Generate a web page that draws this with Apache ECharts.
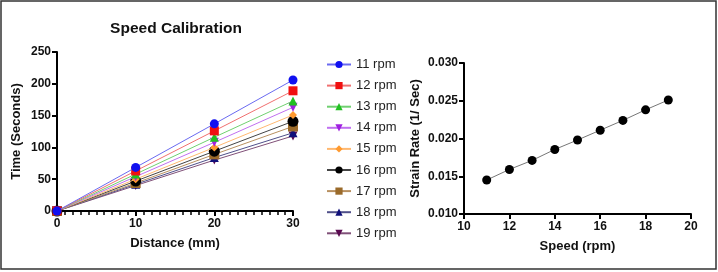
<!DOCTYPE html>
<html><head><meta charset="utf-8">
<script src="https://cdn.jsdelivr.net/npm/echarts@6/dist/echarts.min.js"></script>
<style>html,body{margin:0;padding:0;background:#fff}#c{width:718px;height:272px}</style>
</head><body><div id="c"></div>
<script>
const distances = [0, 10, 20, 30];
const seriesNames = ['11 rpm','12 rpm','13 rpm','14 rpm','15 rpm','16 rpm','17 rpm','18 rpm','19 rpm'];
const t11 = [0, 68.5, 137, 206];
const t12 = [0, 63, 126, 189];
const t13 = [0, 58, 116, 173];
const t14 = [0, 54, 108, 163];
const t15 = [0, 50, 100, 151];
const t16 = [0, 47, 94, 141];
const t17 = [0, 44, 89, 133];
const t18 = [0, 42, 84, 123];
const t19 = [0, 40, 80, 118];
const speeds = [11, 12, 13, 14, 15, 16, 17, 18, 19];
const strainRates = [0.0145, 0.0159, 0.0171, 0.01855, 0.0198, 0.0211, 0.0224, 0.0238, 0.0251];

const timeSets = [t11,t12,t13,t14,t15,t16,t17,t18,t19];
const colors = ['#1010f0','#f01010','#22c022','#a020e0','#ff9a30','#000000','#9a6a2a','#10107a','#5a0a50'];
const lineColors = ['#6a6af0','#f07070','#70d070','#c070f0','#ffb870','#444444','#b89060','#50508a','#805078'];
const symbols = ['circle','rect','triangle','triangle','diamond','circle','rect','triangle','triangle'];
const rotates = [0,0,0,180,0,0,0,0,180];
const sizes = [9,9,9,9,8,11,10,9,9];

const font = 'Liberation Sans, Arial, sans-serif';
const chart = echarts.init(document.getElementById('c'));
const lineSeries = seriesNames.map((n,i)=>({
  name: n, type: 'line', xAxisIndex: 0, yAxisIndex: 0,
  data: distances.map((d,j)=>[d, timeSets[i][j]]),
  symbol: symbols[i], symbolRotate: rotates[i], symbolSize: sizes[i],
  itemStyle: {color: colors[i]},
  lineStyle: {color: lineColors[i], width: 1},
  z: 10 - i, animation: false
}));
const axisCommon = {
  axisLine: {show: true, lineStyle: {color: '#000', width: 2}},
  axisTick: {show: true, inside: false, length: 5, lineStyle: {color: '#000', width: 2}},
  axisLabel: {color: '#111', fontWeight: 'bold', fontSize: 12, fontFamily: font},
  splitLine: {show: false},
  nameTextStyle: {color: '#111', fontWeight: 'bold', fontSize: 13, fontFamily: font},
  nameLocation: 'middle'
};
chart.setOption({
  animation: false,
  backgroundColor: '#fff',
  title: {text: 'Speed Calibration', left: 171, textAlign: 'center', top: 16,
    textStyle: {fontSize: 15.5, fontWeight: 'bold', color: '#111', fontFamily: font}},
  legend: {
    orient: 'vertical', left: 321, top: 53, itemWidth: 24, itemHeight: 9, itemGap: 8.1,
    data: seriesNames,
    textStyle: {fontSize: 13, color: '#222', fontFamily: font}
  },
  grid: [
    {left: 57, right: 425, top: 52, bottom: 61},
    {left: 464, right: 27, top: 63, bottom: 58}
  ],
  xAxis: [
    Object.assign({}, axisCommon, {type: 'value', gridIndex: 0, min: 0, max: 30, interval: 10,
      name: 'Distance (mm)', nameGap: 26,
      minorTick: {show: true, splitNumber: 10, length: 4, lineStyle: {color: '#000', width: 1.5}},
      axisLabel: Object.assign({}, axisCommon.axisLabel, {margin: 7})}),
    Object.assign({}, axisCommon, {type: 'value', gridIndex: 1, min: 10, max: 20, interval: 2,
      name: 'Speed (rpm)', nameGap: 26,
      axisLabel: Object.assign({}, axisCommon.axisLabel, {margin: 7})})
  ],
  yAxis: [
    Object.assign({}, axisCommon, {type: 'value', gridIndex: 0, min: 0, max: 250, interval: 50,
      name: 'Time (Seconds)', nameGap: 34,
      axisLabel: Object.assign({}, axisCommon.axisLabel, {margin: 6})}),
    Object.assign({}, axisCommon, {type: 'value', gridIndex: 1, min: 0.010, max: 0.030, interval: 0.005,
      name: 'Strain Rate (1/ Sec)', nameGap: 42,
      axisLabel: Object.assign({}, axisCommon.axisLabel, {margin: 6, formatter: v => v.toFixed(3)})})
  ],
  series: lineSeries.concat([{
    name: 'strain', type: 'line', xAxisIndex: 1, yAxisIndex: 1,
    data: speeds.map((s,i)=>[s, strainRates[i]]),
    symbol: 'circle', symbolSize: 9, itemStyle: {color: '#000'},
    lineStyle: {color: '#777', width: 1}
  }]),
  graphic: [{type: 'rect', shape: {x: 1, y: 1, width: 715, height: 268},
    style: {fill: 'none', stroke: '#333', lineWidth: 1.5}, silent: true, z: 100}]
});
</script></body></html>
